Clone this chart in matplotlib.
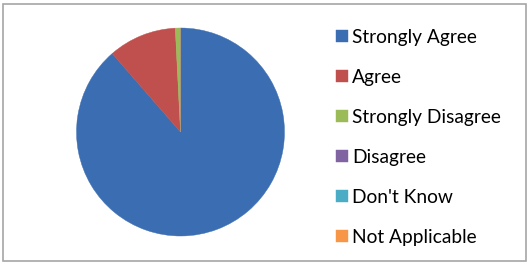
import matplotlib
matplotlib.use("Agg")
import matplotlib.pyplot as plt
from matplotlib.patches import Rectangle

# Survey responses (percent)
labels = ['Strongly Agree', 'Agree', 'Strongly Disagree', 'Disagree',
          "Don't Know", 'Not Applicable']
values = [88.6, 10.6, 0.8, 0, 0, 0]
colors = ['#3A6DB1', '#C0504D', '#9BBB59', '#8064A2', '#4BACC6', '#F79646']

W, H = 529, 264
fig = plt.figure(figsize=(W / 100, H / 100), dpi=100)

# light grey chart border
fig.patches.append(Rectangle((3 / W, 3 / H), 523 / W, 257 / H, transform=fig.transFigure,
                             fill=False, edgecolor='#A6A6A6', linewidth=1.2))

# pie: centre ~ (180, 132) px, radius ~104 px
cx, cy, r = 180.5, 132, 104
ax = fig.add_axes([(cx - r) / W, (H - cy - r) / H, 2 * r / W, 2 * r / H])
wedges, _ = ax.pie(values, colors=colors, startangle=90, counterclock=False,
                   radius=1, wedgeprops=dict(linewidth=0.3))
for w, c in zip(wedges, colors):
    w.set_edgecolor(c)
ax.set_xlim(-1, 1)
ax.set_ylim(-1, 1)
ax.set_aspect('equal')
ax.axis('off')

leg = fig.legend(wedges, labels, loc='upper left', bbox_to_anchor=(328 / W, 1 - 21 / H),
                 frameon=False, prop={'family': 'Lato', 'size': 13.8},
                 handlelength=0.62, handleheight=0.62, handletextpad=0.25,
                 labelspacing=1.2, borderaxespad=0)

fig.savefig('out.png', dpi=100)
